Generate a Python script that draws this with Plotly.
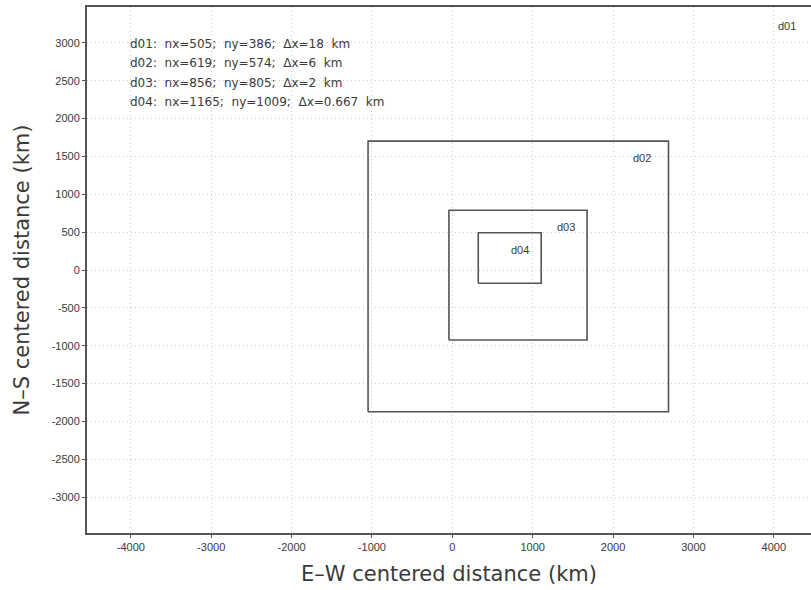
import plotly.graph_objects as go

# Domain outlines (km): [west, east, south, north]
domains = ["d02", "d03", "d04"]
west = [-1048, -42, 323]
east = [2690, 1677, 1106]
south = [-1872, -925, -175]
north = [1702, 789, 492]

info_lines = [
    "d01:  nx=505;  ny=386;  Δx=18  km",
    "d02:  nx=619;  ny=574;  Δx=6  km",
    "d03:  nx=856;  ny=805;  Δx=2  km",
    "d04:  nx=1165;  ny=1009;  Δx=0.667  km",
]

x_ticks = [-4000, -3000, -2000, -1000, 0, 1000, 2000, 3000, 4000]
y_ticks = [-3000, -2500, -2000, -1500, -1000, -500, 0, 500, 1000, 1500, 2000, 2500, 3000]

NARROW = "Liberation Sans Narrow, Liberation Sans, Arial, sans-serif"
WIDE = "DejaVu Sans, Verdana, sans-serif"
TXT = "#3a3a3a"
fig = go.Figure()

label_shift = [-16, -10, -10]
for name, w, e, s, n, sh in zip(domains, west, east, south, north, label_shift):
    fig.add_trace(go.Scatter(
        x=[w, e, e, w, w], y=[s, s, n, n, s], mode="lines",
        line=dict(color="#555555", width=1.6), showlegend=False, hoverinfo="skip"))
    fig.add_annotation(x=e, y=n, text=name, showarrow=False, xanchor="right", yanchor="top",
                       xshift=sh, yshift=-9, font=dict(size=11, color=TXT, family=NARROW))

fig.add_annotation(x=1, y=1, xref="paper", yref="paper", text="d01", showarrow=False,
                   xanchor="right", yanchor="top", xshift=-13, yshift=-11,
                   font=dict(size=11, color=TXT, family=NARROW))

for i, t in enumerate(info_lines):
    fig.add_annotation(x=-4030, y=2983 - i * 255, text=t.replace(" ", "&nbsp;"), showarrow=False,
                       xanchor="left", yanchor="middle",
                       font=dict(size=12, color=TXT, family=WIDE))

grid = dict(showgrid=True, gridcolor="#cccccc", griddash="1px,3px", gridwidth=1, zeroline=False)
fig.update_xaxes(range=[-4545, 4463], tickvals=x_ticks, ticktext=[str(v) for v in x_ticks],
                 showline=True, linecolor="#555555", linewidth=2, mirror=True,
                 ticks="outside", ticklen=3, tickcolor="#555555", automargin=False,
                 tickfont=dict(size=11, color=TXT, family=NARROW),
                 title=dict(text="E–W centered distance (km)", standoff=14,
                            font=dict(size=21, color=TXT, family=WIDE)), **grid)
fig.update_yaxes(range=[-3474, 3474], tickvals=y_ticks, ticktext=[str(v) for v in y_ticks],
                 showline=True, linecolor="#555555", linewidth=2, mirror=False,
                 ticks="outside", ticklen=3, tickcolor="#555555", automargin=False,
                 tickfont=dict(size=11, color=TXT, family=NARROW),
                 title=dict(text="N–S centered distance (km)", standoff=16,
                            font=dict(size=21, color=TXT, family=WIDE)), **grid)

fig.update_layout(width=811, height=590, margin=dict(l=87, r=0, t=7, b=57),
                  plot_bgcolor="white", paper_bgcolor="white", showlegend=False)

fig.write_html("out.html", config={"displayModeBar": False},
               post_script="document.body.style.margin='0';")
